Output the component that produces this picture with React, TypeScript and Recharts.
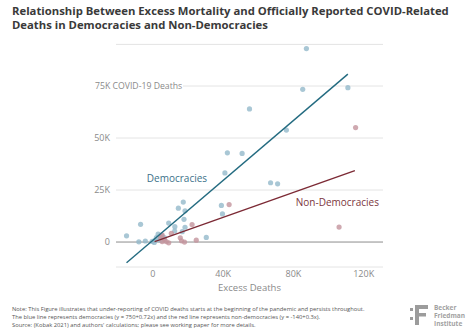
import { ScatterChart, Scatter, XAxis, YAxis, CartesianGrid, ReferenceLine, ReferenceDot } from "recharts";

// excess deaths (x) vs officially reported COVID-19 deaths (y)
const democracies = [
  { x: 87400, y: 93000 }, { x: 85300, y: 73400 }, { x: 111000, y: 74200 },
  { x: 55000, y: 64000 }, { x: 76000, y: 53800 }, { x: 42400, y: 42900 },
  { x: 50800, y: 42600 }, { x: 41000, y: 33200 }, { x: 67000, y: 28500 },
  { x: 71000, y: 28000 }, { x: 39000, y: 17600 }, { x: 39600, y: 13500 },
  { x: 30400, y: 2200 }, { x: 17300, y: 19200 }, { x: 14500, y: 16300 },
  { x: 18300, y: 15000 }, { x: 9000, y: 9100 }, { x: 17700, y: 10900 },
  { x: 18300, y: 7100 }, { x: 12500, y: 7400 }, { x: 16700, y: 5000 },
  { x: -7000, y: 8500 }, { x: -15000, y: 3000 }, { x: -8000, y: 100 },
  { x: -4300, y: 500 }, { x: 12400, y: 5300 }, { x: 3000, y: 3800 },
  { x: 2000, y: 2100 }, { x: 1200, y: 800 }, { x: -400, y: 300 },
  { x: 6500, y: 2100 }, { x: 4000, y: 1000 }, { x: 800, y: -200 },
  { x: 5000, y: 3000 },
];

const nonDemocracies = [
  { x: 115400, y: 55000 }, { x: 106000, y: 7200 }, { x: 43400, y: 18000 },
  { x: 22300, y: 8400 }, { x: 10500, y: 4200 }, { x: 15600, y: 2000 },
  { x: 24700, y: 900 }, { x: 18000, y: 0 }, { x: 9000, y: -400 },
  { x: 16300, y: 600 }, { x: 4400, y: 2400 }, { x: 5300, y: 3300 },
  { x: 6600, y: 1100 }, { x: 7600, y: 200 }, { x: 5300, y: 200 },
];

// fitted lines, end points
const democracyFit = [{ x: -15000, y: -10000 }, { x: 111000, y: 80700 }];
const nonDemocracyFit = [{ x: 1000, y: 200 }, { x: 115000, y: 34300 }];

const xTicks = [0, 40000, 80000, 120000];
const yTicks = [0, 25000, 50000, 75000];

const font = "'Open Sans', sans-serif";
const tickColor = "#8a8a8a";
const blue = "#236b80";
const red = "#7c2a35";

const fmtK = (v: number) => (v === 0 ? "0" : `${v / 1000}K`);

function YTick({ x, y, payload }: any) {
  if (payload.value === 75000) {
    return (
      <g>
        <rect x={x + 4} y={y - 6} width={69} height={12} fill="#fff" />
        <text x={x - 15} y={y} dy="0.355em" textAnchor="start" fill={tickColor} fontSize={8.7} fontFamily={font}>
          75K COVID-19 Deaths
        </text>
      </g>
    );
  }
  return (
    <text x={x} y={y} dy="0.355em" textAnchor="end" fill={tickColor} fontSize={9} fontFamily={font}>
      {fmtK(payload.value)}
    </text>
  );
}

const dot = (color: string) => (p: any) => (
  <circle cx={p.cx} cy={p.cy} r={2.6} fill={color} fillOpacity={0.8} />
);

export default function App() {
  return (
    <div style={{ position: "absolute", left: 0, top: 0, width: 474, height: 336, background: "#fff", fontFamily: font }}>
      <div style={{ position: "absolute", left: 12, top: 4, fontSize: 11.3, fontWeight: 700, color: "#3a3a3a", lineHeight: "13.5px", whiteSpace: "nowrap" }}>
        Relationship Between Excess Mortality and Officially Reported COVID-Related
        <br />
        Deaths in Democracies and Non-Democracies
      </div>

      <ScatterChart width={474} height={336} margin={{ top: 44.4, right: 91, bottom: 49, left: 86 }}>
        <CartesianGrid vertical={false} stroke="#e4e4e4" />
        <XAxis
          type="number"
          dataKey="x"
          domain={[-21000, 131000]}
          ticks={xTicks}
          tickFormatter={fmtK}
          axisLine={false}
          tickLine={false}
          tickSize={0}
          tickMargin={4}
          height={20}
          tick={{ fill: tickColor, fontSize: 9, fontFamily: font }}
          allowDataOverflow
        />
        <YAxis
          type="number"
          dataKey="y"
          domain={[-12000, 95000]}
          ticks={yTicks}
          axisLine={false}
          tickLine={false}
          tickSize={0}
          tickMargin={6}
          width={30}
          tick={<YTick />}
          allowDataOverflow
        />
        <ReferenceLine y={0} stroke="#9a9a9a" strokeWidth={1} />
        <Scatter data={democracies} shape={dot("#93b9cb")} isAnimationActive={false} />
        <Scatter data={nonDemocracies} shape={dot("#c3939c")} isAnimationActive={false} />
        <Scatter data={democracyFit} line={{ stroke: blue, strokeWidth: 1.4 }} shape={() => <g />} isAnimationActive={false} />
        <Scatter data={nonDemocracyFit} line={{ stroke: red, strokeWidth: 1.4 }} shape={() => <g />} isAnimationActive={false} />
        <ReferenceDot
          x={13700}
          y={30800}
          r={0}
          label={{ value: "Democracies", fill: "#3c7189", fontSize: 10, fontFamily: font, position: "center" }}
        />
        <ReferenceDot
          x={105000}
          y={18800}
          r={0}
          label={{ value: "Non-Democracies", fill: "#7c3640", fontSize: 10, fontFamily: font, position: "center" }}
        />
      </ScatterChart>

      <div style={{ position: "absolute", left: 0, top: 281, width: 499, textAlign: "center", fontSize: 9.5, color: tickColor }}>
        Excess Deaths
      </div>

      <div style={{ position: "absolute", left: 12, top: 305, fontSize: 5.8, lineHeight: "8px", color: "#555", whiteSpace: "nowrap" }}>
        Note: This Figure illustrates that under-reporting of COVID deaths starts at the beginning of the pandemic and persists throughout.
        <br />
        The blue line represents democracies (y = 750+0.72x) and the red line represents non-democracies (y = -140+0.3x).
        <br />
        Source: (Kobak 2021) and authors' calculations; please see working paper for more details.
      </div>

      <svg style={{ position: "absolute", left: 408, top: 304 }} width={24} height={22}>
        <rect x={2} y={4} width={3} height={3} fill="#9c9c9c" />
        <rect x={2} y={13} width={3} height={3} fill="#9c9c9c" />
        <rect x={7} y={1} width={4} height={20} fill="#9c9c9c" />
        <rect x={7} y={1} width={13} height={4} fill="#9c9c9c" />
        <rect x={7} y={9} width={11} height={3.5} fill="#9c9c9c" />
      </svg>
      <div style={{ position: "absolute", left: 434, top: 304, fontSize: 6.5, lineHeight: "8px", fontWeight: 700, color: "#a2a2a2" }}>
        Becker
        <br />
        Friedman
        <br />
        Institute
      </div>
    </div>
  );
}
